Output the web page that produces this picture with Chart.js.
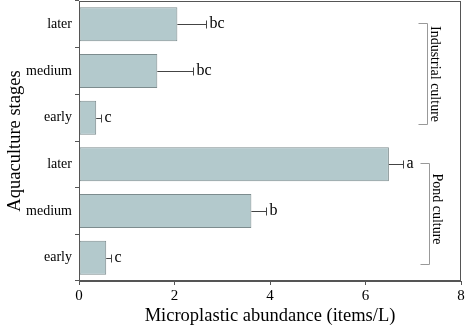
<!DOCTYPE html>
<html>
<head>
<meta charset="utf-8">
<script src="https://cdn.jsdelivr.net/npm/chart.js@4"></script>
<style>
  html, body { margin: 0; padding: 0; background: #fff; }
  #wrap { width: 466px; height: 331px; position: relative; }
</style>
</head>
<body>
<div id="wrap"><canvas id="chart"></canvas></div>
<script>
// stages, top to bottom
const stages = ['later', 'medium', 'early', 'later', 'medium', 'early'];
const means = [2.06, 1.64, 0.36, 6.49, 3.61, 0.57];
const errors = [0.61, 0.75, 0.10, 0.30, 0.30, 0.10];
const letters = ['bc', 'bc', 'c', 'a', 'b', 'c'];
const groups = ['Industrial culture', 'Pond culture'];
const groupRanges = [[0, 2], [3, 5]]; // category index ranges
const xTicks = [0, 2, 4, 6, 8];

const serif = '"Liberation Serif", "Times New Roman", serif';

const extras = {
  id: 'extras',
  afterDatasetsDraw(chart) {
    const ctx = chart.ctx;
    const x = chart.scales.x;
    const y = chart.scales.y;
    const area = chart.chartArea;
    ctx.save();

    // error bars + letters
    ctx.strokeStyle = '#444';
    ctx.lineWidth = 1;
    ctx.fillStyle = '#000';
    ctx.font = '16px ' + serif;
    ctx.textBaseline = 'middle';
    means.forEach((m, i) => {
      const cy = Math.round(y.getPixelForValue(i)) + 0.5;
      const x0 = x.getPixelForValue(m);
      const x1 = Math.round(x.getPixelForValue(m + errors[i])) + 0.5;
      ctx.beginPath();
      ctx.moveTo(x0, cy); ctx.lineTo(x1, cy);
      ctx.moveTo(x1, cy - 4); ctx.lineTo(x1, cy + 4);
      ctx.stroke();
      ctx.textAlign = 'left';
      ctx.fillText(letters[i], x1 + 3, cy - 1);
    });

    // group brackets
    ctx.strokeStyle = '#999';
    ctx.font = '14px ' + serif;
    groupRanges.forEach((r, g) => {
      const step = y.getPixelForValue(1) - y.getPixelForValue(0);
      const top = Math.round(y.getPixelForValue(r[0]) - step * 0.03) + 0.5;
      const bot = Math.round(y.getPixelForValue(r[1]) + step * 0.13) + 0.5;
      const bx = g === 0 ? 427.5 : 429.5;
      ctx.beginPath();
      ctx.moveTo(bx - 9, top); ctx.lineTo(bx, top); ctx.lineTo(bx, bot); ctx.lineTo(bx - 9, bot);
      ctx.stroke();
      ctx.save();
      ctx.translate(bx + 7, (top + bot) / 2 - (g === 1 ? 5 : 0));
      ctx.rotate(Math.PI / 2);
      ctx.textAlign = 'center';
      ctx.textBaseline = 'middle';
      ctx.fillStyle = '#000';
      ctx.fillText(groups[g], 0, 0);
      ctx.restore();
    });

    // frame
    ctx.strokeStyle = '#555';
    ctx.lineWidth = 1;
    ctx.strokeRect(area.left + 0.5, area.top + 0.5, area.right - area.left - 1, area.bottom - area.top - 1);
    ctx.restore();
  }
};

new Chart(document.getElementById('chart'), {
  type: 'bar',
  data: {
    labels: stages,
    datasets: [{
      data: means,
      backgroundColor: '#b3c9cc',
      borderColor: '#7d8c8e',
      borderWidth: 1,
      borderSkipped: false,
      categoryPercentage: 0.73,
      barPercentage: 1
    }]
  },
  options: {
    indexAxis: 'y',
    responsive: true,
    maintainAspectRatio: false,
    animation: false,
    layout: { padding: { top: 1, right: 5, left: 0, bottom: 0 } },
    plugins: { legend: { display: false }, tooltip: { enabled: false } },
    scales: {
      x: {
        min: 0, max: 8,
        afterBuildTicks: (s) => { s.ticks = xTicks.map(v => ({ value: v })); },
        afterFit: (s) => { s.height = 50; s.paddingLeft = 0; s.paddingRight = 0; },
        grid: { drawOnChartArea: false, tickLength: 4, color: '#555' },
        border: { color: '#555' },
        ticks: { color: '#000', font: { family: serif, size: 15 }, padding: 2 },
        title: { display: true, text: 'Microplastic abundance (items/L)', color: '#000',
                 font: { family: serif, size: 18.5 }, padding: { top: 3 } }
      },
      y: {
        afterFit: (s) => { s.width = 79; s.paddingTop = 0; s.paddingBottom = 0; },
        grid: { drawOnChartArea: false, tickLength: 4, color: '#555', offset: true },
        border: { color: '#555' },
        ticks: { color: '#000', font: { family: serif, size: 14 }, padding: 3 },
        title: { display: true, text: 'Aquaculture stages', color: '#000',
                 font: { family: serif, size: 18.5 }, padding: { bottom: 2 } }
      }
    }
  },
  plugins: [extras]
});
</script>
</body>
</html>
